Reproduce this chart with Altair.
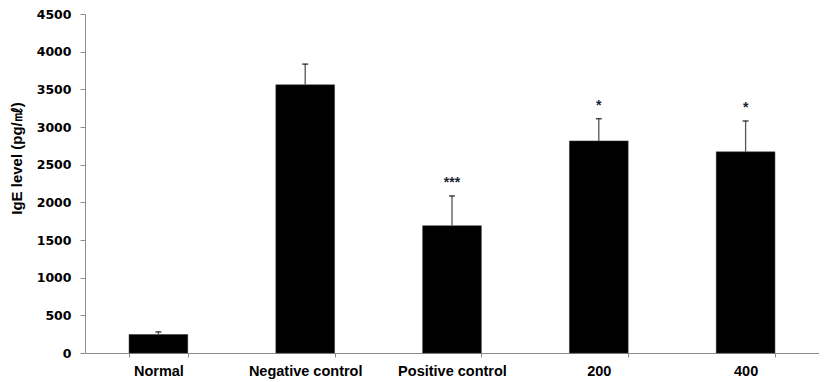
import altair as alt
import pandas as pd

groups = ["Normal", "Negative control", "Positive control", "200", "400"]
means = [245, 3560, 1690, 2815, 2670]
errors = [35, 275, 395, 295, 410]
signif = ["", "", "***", "*", "*"]
y_ticks = [0, 500, 1000, 1500, 2000, 2500, 3000, 3500, 4000, 4500]

df = pd.DataFrame({"group": groups, "mean": means, "err": errors, "sig": signif})
df["top"] = df["mean"] + df["err"]

xaxis = alt.Axis(
    title=None,
    labelAngle=0,
    tickBand="extent",
    labelFont="Liberation Sans",
    labelFontWeight="bold",
    labelFontSize=14.5,
    labelColor="#000000",
    labelPadding=7,
    tickSize=4,
    tickColor="#8c8c8c",
    domainColor="#8c8c8c",
    grid=False,
)
yaxis = alt.Axis(
    title="IgE level (pg/㎖)",
    values=y_ticks,
    format="d",
    labelOverlap=False,
    labelBound=False,
    labelFlush=False,
    labelFont="DejaVu Sans",
    labelFontWeight="bold",
    labelFontSize=12.5,
    labelColor="#000000",
    labelPadding=9,
    tickSize=5,
    tickColor="#8c8c8c",
    domainColor="#8c8c8c",
    grid=False,
    titleFont="Liberation Sans",
    titleFontWeight="bold",
    titleFontSize=15,
    titleColor="#000000",
    titleX=-61,
    titleY=144,
)
xscale = alt.Scale(paddingInner=0.6, paddingOuter=0.3)
yscale = alt.Scale(domain=[0, 4500], nice=False)

def X():
    return alt.X("group:N", sort=groups, scale=xscale, axis=xaxis)

def Y(field):
    return alt.Y(field, scale=yscale, axis=yaxis)

base = alt.Chart(df)

bars = base.mark_bar(color="#000000", stroke="#333333", strokeWidth=0.5).encode(x=X(), y=Y("mean:Q"))
err_line = base.mark_rule(color="#555555", strokeWidth=1.3).encode(
    x=X(), y=Y("mean:Q"), y2="top:Q"
)
err_cap = base.mark_tick(color="#000000", thickness=1.5, size=6).encode(x=X(), y=Y("top:Q"))
stars = base.mark_text(
    font="Liberation Sans", fontSize=14, fontWeight="bold", color="#1a2433", dy=-9, baseline="alphabetic"
).encode(x=X(), y=Y("top:Q"), text="sig:N")

chart = (
    alt.layer(bars, err_line, err_cap, stars)
    .properties(
        width=734,
        height=339,
        autosize=alt.AutoSizeParams(type="none"),
        padding={"left": 77, "top": 6, "right": 0, "bottom": 28},
    )
    .configure_view(stroke=None)
)

chart.save("out.html", embed_options={"renderer": "svg", "actions": False})
